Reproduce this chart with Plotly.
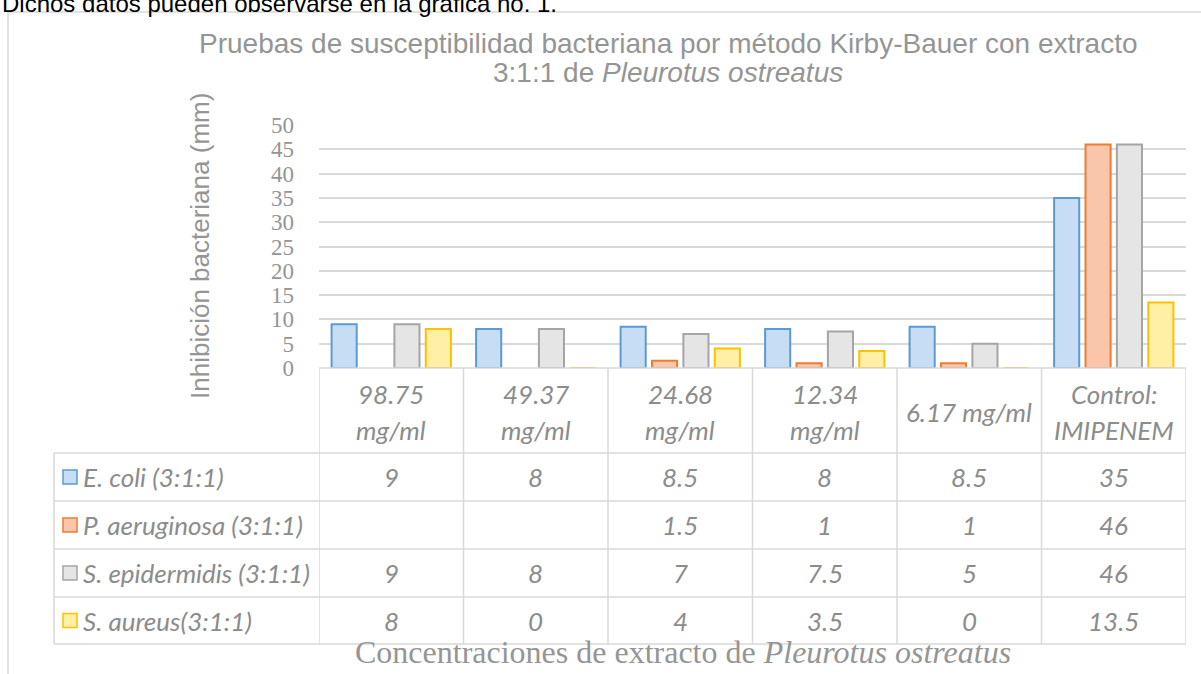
import plotly.graph_objects as go

# ---------------- data ----------------
categories = ["98.75 mg/ml", "49.37 mg/ml", "24.68 mg/ml", "12.34 mg/ml", "6.17 mg/ml", "Control: IMIPENEM"]
header_labels = ["98.75<br>mg/ml", "49.37<br>mg/ml", "24.68<br>mg/ml", "12.34<br>mg/ml", "6.17 mg/ml", "Control:<br>IMIPENEM"]
series_names = ["E. coli (3:1:1)", "P. aeruginosa (3:1:1)", "S. epidermidis (3:1:1)", "S. aureus(3:1:1)"]
e_coli = [9, 8, 8.5, 8, 8.5, 35]
p_aeruginosa = [None, None, 1.5, 1, 1, 46]
s_epidermidis = [9, 8, 7, 7.5, 5, 46]
s_aureus = [8, 0, 4, 3.5, 0, 13.5]
y_ticks = [0, 5, 10, 15, 20, 25, 30, 35, 40, 45, 50]

series_values = [e_coli, p_aeruginosa, s_epidermidis, s_aureus]
fill_colors = ["#c6ddf3", "#f9c6ab", "#e5e5e5", "#fff0a6"]
line_colors = ["#5b9bd5", "#ed7d31", "#a5a5a5", "#ffc000"]

# ---------------- geometry (pixels) ----------------
W, H = 1201, 674
L, R = 319, 1186          # plot area x
T, B = 125, 368           # plot area y (50 -> T, 0 -> B)
PW, PH = R - L, B - T

def px(x):
    return (x - L) / PW

def py(y):
    return (B - y) / PH

GREY_TXT = "#8c8c8c"
GRID = "#d9d9d9"
TABLE_FONT = "Lato"
TS = 26

fig = go.Figure()
for name, vals, fc, lc in zip(series_names, series_values, fill_colors, line_colors):
    fig.add_trace(go.Bar(
        x=categories, y=vals, name=name,
        marker=dict(color=fc, line=dict(color=lc, width=2)),
        showlegend=False,
    ))

shapes = []
annotations = []

# outer chart frame
shapes.append(dict(type="rect", xref="paper", yref="paper",
                   x0=px(8), x1=px(1215), y0=py(12), y1=py(690),
                   line=dict(color=GRID, width=1.5), fillcolor="rgba(0,0,0,0)", layer="below"))

# table geometry
row_edges = [453, 501, 549, 597, 644]
table_left = 54
shapes.append(dict(type="line", xref="paper", yref="paper", x0=px(L), x1=px(R), y0=py(368), y1=py(368),
                   line=dict(color=GRID, width=1.5)))
for ry in row_edges:
    shapes.append(dict(type="line", xref="paper", yref="paper", x0=px(table_left), x1=px(R),
                       y0=py(ry), y1=py(ry), line=dict(color=GRID, width=1.5)))
n = len(categories)
for i in range(n + 1):
    shapes.append(dict(type="line", xref="x", yref="paper", x0=i - 0.5, x1=i - 0.5,
                       y0=py(368), y1=py(row_edges[-1]), line=dict(color=GRID, width=1.5)))
shapes.append(dict(type="line", xref="paper", yref="paper", x0=px(table_left), x1=px(table_left),
                   y0=py(row_edges[0]), y1=py(row_edges[-1]), line=dict(color=GRID, width=1.5)))

# header labels (custom line spacing)
for i, lab in enumerate(header_labels):
    parts = lab.split("<br>")
    ys = [412] if len(parts) == 1 else [394, 430]
    for part, yy in zip(parts, ys):
        annotations.append(dict(xref="x", yref="paper", x=i, y=py(yy), text=f"<i>{part}</i>",
                                showarrow=False, xanchor="center", yanchor="middle",
                                font=dict(family=TABLE_FONT, size=TS, color=GREY_TXT)))

# rows
for r, (name, vals, fc, lc) in enumerate(zip(series_names, series_values, fill_colors, line_colors)):
    yc = (row_edges[r] + row_edges[r + 1]) / 2
    shapes.append(dict(type="rect", xref="paper", yref="paper",
                       x0=px(63), x1=px(77), y0=py(yc - 7), y1=py(yc + 7),
                       fillcolor=fc, line=dict(color=lc, width=1.5)))
    annotations.append(dict(xref="paper", yref="paper", x=px(81), y=py(yc), text=f"<i>{name}</i>",
                            showarrow=False, xanchor="left", yanchor="middle",
                            font=dict(family=TABLE_FONT, size=TS, color=GREY_TXT)))
    for i, v in enumerate(vals):
        if v is None:
            continue
        annotations.append(dict(xref="x", yref="paper", x=i, y=py(yc), text=f"<i>{v:g}</i>",
                                showarrow=False, xanchor="center", yanchor="middle",
                                font=dict(family=TABLE_FONT, size=TS, color=GREY_TXT)))

# title
annotations.append(dict(xref="paper", yref="paper", x=px(668), y=py(43),
                        text="Pruebas de susceptibilidad bacteriana por método Kirby-Bauer con extracto",
                        showarrow=False, xanchor="center", yanchor="middle",
                        font=dict(family="Liberation Sans", size=28, color="#959595")))
annotations.append(dict(xref="paper", yref="paper", x=px(668), y=py(72),
                        text="3:1:1 de <i>Pleurotus ostreatus</i>",
                        showarrow=False, xanchor="center", yanchor="middle",
                        font=dict(family="Liberation Sans", size=28, color="#959595")))
# y-axis title
annotations.append(dict(xref="paper", yref="paper", x=px(200), y=py(246),
                        text="Inhibición bacteriana (mm)", textangle=-90,
                        showarrow=False, xanchor="center", yanchor="middle",
                        font=dict(family="Liberation Sans", size=26, color="#959595")))
# x-axis title
annotations.append(dict(xref="paper", yref="paper", x=px(683), y=py(652),
                        text="Concentraciones de extracto de <i>Pleurotus ostreatus</i>",
                        showarrow=False, xanchor="center", yanchor="middle",
                        font=dict(family="Liberation Serif", size=32, color="#959595")))
# text above chart (cut off at the top edge)
annotations.append(dict(xref="paper", yref="paper", x=px(0), y=py(4),
                        text="Dichos datos pueden observarse en la gráfica no. 1.",
                        showarrow=False, xanchor="left", yanchor="middle",
                        font=dict(family="Liberation Sans", size=24, color="#000000")))

fig.update_layout(
    width=W, height=H,
    margin=dict(l=L, r=W - R, t=T, b=H - B, pad=0),
    paper_bgcolor="white", plot_bgcolor="white",
    barmode="group", bargap=0.131, bargroupgap=0.2,
    shapes=shapes, annotations=annotations,
    xaxis=dict(type="category", showticklabels=False, showgrid=False, zeroline=False,
               showline=False, ticks="", range=[-0.5, n - 0.5]),
    yaxis=dict(range=[0, 50], tickvals=y_ticks, showgrid=True, gridcolor=GRID, gridwidth=1.5,
               zeroline=False, showline=False, ticks="", ticklabelstandoff=24,
               tickfont=dict(family="Liberation Serif", size=23, color="#959595")),
)

fig.write_html("out.html", config={"displayModeBar": False},
               post_script="document.body.style.margin='0px';")
